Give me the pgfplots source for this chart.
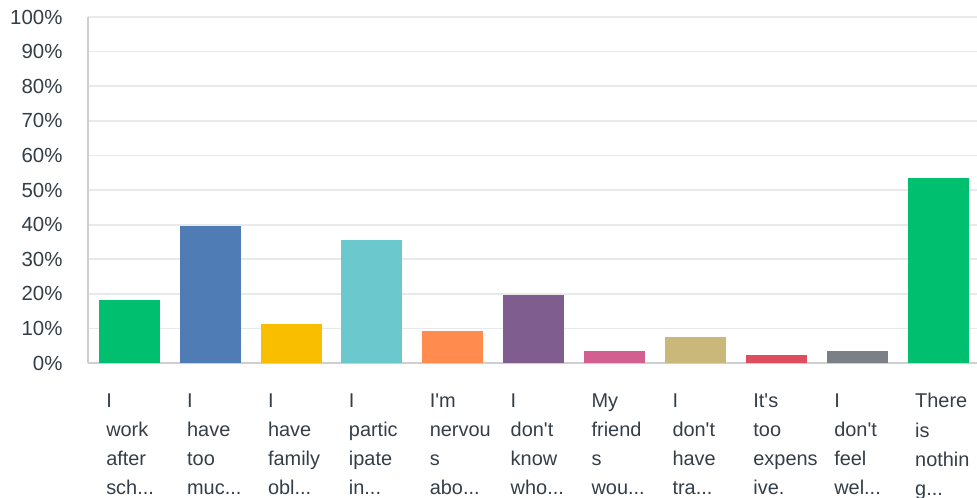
\documentclass[border=0pt]{standalone}
\usepackage{pgfplots}
\pgfplotsset{compat=1.18}
\usepackage{fontspec}
\setmainfont{Liberation Sans}
\definecolor{txt}{RGB}{51,62,72}
\definecolor{gridc}{RGB}{232,233,233}
\definecolor{axc}{RGB}{205,207,208}
\definecolor{c1}{RGB}{0,191,111}
\definecolor{c2}{RGB}{80,124,182}
\definecolor{c3}{RGB}{249,190,0}
\definecolor{c4}{RGB}{107,200,205}
\definecolor{c5}{RGB}{255,139,79}
\definecolor{c6}{RGB}{127,94,143}
\definecolor{c7}{RGB}{211,95,144}
\definecolor{c8}{RGB}{201,184,122}
\definecolor{c9}{RGB}{222,78,94}
\definecolor{c10}{RGB}{123,128,135}
\newcommand{\el}{...}
\newcommand{\q}{\textquotesingle}
\begin{document}
\begin{tikzpicture}
\begin{axis}[
  name=ax,
  scale only axis,
  width=889bp, height=346bp,
  xmin=-0.51, xmax=10.48,
  ymin=0, ymax=100,
  ybar, bar width=61bp, bar shift=0pt,
  axis x line=bottom, axis y line=left,
  axis line style={draw=axc, line width=1.5bp, -},
  major tick length=0pt,
  ymajorgrids, grid style={draw=gridc, line width=1.8bp},
  ytick={0,10,...,100},
  yticklabels={0\%,10\%,20\%,30\%,40\%,50\%,60\%,70\%,80\%,90\%,100\%},
  yticklabel style={font=\fontsize{20.5}{22}\selectfont, text=txt, xshift=-22bp},
  xtick={0,1,2,3,4,5,6,7,8,9,10},
  xticklabels={{I\\work\\after\\sch\el},{I\\have\\too\\muc\el},{I\\have\\family\\obl\el},{I\\partic\\ipate\\in\el},{I\q m\\nervou\\s\\abo\el},{I\\don\q t\\know\\who\el},{My\\friend\\s\\wou\el},{I\\don\q t\\have\\tra\el},{It\q s\\too\\expens\\ive.},{I\\don\q t\\feel\\wel\el},{There\\is\\nothin\\g\el}},
  xticklabel style={font=\fontsize{20}{29.3}\selectfont, text=txt, align=left, text width=46bp, anchor=north, yshift=-27bp},
]
\addplot[fill=c1, draw=none] coordinates {(0,18.2)};
\addplot[fill=c2, draw=none] coordinates {(1,39.6)};
\addplot[fill=c3, draw=none] coordinates {(2,11.3)};
\addplot[fill=c4, draw=none] coordinates {(3,35.5)};
\addplot[fill=c5, draw=none] coordinates {(4,9.2)};
\addplot[fill=c6, draw=none] coordinates {(5,19.7)};
\addplot[fill=c7, draw=none] coordinates {(6,3.5)};
\addplot[fill=c8, draw=none] coordinates {(7,7.5)};
\addplot[fill=c9, draw=none] coordinates {(8,2.3)};
\addplot[fill=c10, draw=none] coordinates {(9,3.5)};
\addplot[fill=c1, draw=none] coordinates {(10,53.5)};
\end{axis}
\pgfresetboundingbox
\path ([xshift=-88bp,yshift=-135bp]ax.south west) rectangle ([yshift=17bp]ax.north east);
\end{tikzpicture}
\end{document}
